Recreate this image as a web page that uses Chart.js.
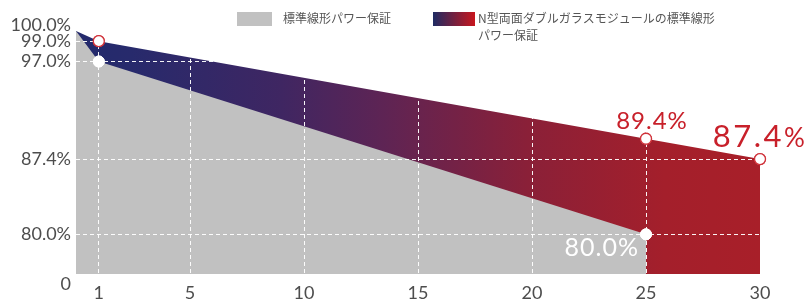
<!DOCTYPE html>
<html><head><meta charset="utf-8">
<script src="https://cdn.jsdelivr.net/npm/chart.js@4/dist/chart.umd.min.js"></script>
<style>html,body{margin:0;padding:0;background:#fff;}#wrap{width:811px;height:300px;position:relative;}</style>
</head><body><div id="wrap"><canvas id="c" width="811" height="300"></canvas></div>
<script>
// ---- data ----
const standardYears = [0, 1, 25];
const standardValues = [100, 97, 80];
const ntypeYears = [0, 1, 25, 30];
const ntypeValues = [100, 99, 89.4, 87.4];
const xTickValues = [1, 5, 10, 15, 20, 25, 30];
const yTickValues = [0, 80, 87.4, 97, 99, 100];
const seriesNames = ['標準線形パワー保証', 'N型両面ダブルガラスモジュールの標準線形パワー保証'];
const legendLines = [['標準線形パワー保証'], ['N型両面ダブルガラスモジュールの標準線形', 'パワー保証']];
const calloutYears = [25, 30, 25];
const calloutValues = [89.4, 87.4, 80];

// ---- scale settings ----
const Y_BREAK = 76.1;   // axis base, labelled "0" (broken axis)
const FONT = 'Lato, "Noto Sans", sans-serif';
const CJK = '"Noto Sans CJK JP", "Noto Sans", sans-serif';
const GRAY = '#c1c1c1';
const RED = '#c8202a';
const GRID = 'rgba(255,255,255,0.95)';
const NONE = 'rgba(0,0,0,0)';

const toPts = (xs, ys) => xs.map((x, i) => ({x: x, y: ys[i]}));
const yTickPos = v => (v === 0 ? Y_BREAK : v);

function ntypeGradient(ctx) {
  const ch = ctx.chart, a = ch.chartArea;
  if (!a) return '#5c2455';
  const g = ch.ctx.createLinearGradient(a.left, 0, a.right, 0);
  g.addColorStop(0, '#232a6c');
  g.addColorStop(0.08, '#272a6c');
  g.addColorStop(0.3, '#3f2662');
  g.addColorStop(0.45, '#5e2454');
  g.addColorStop(0.66, '#8a2038');
  g.addColorStop(0.86, '#a41f2b');
  g.addColorStop(1, '#a81f29');
  return g;
}

const overlay = {
  id: 'overlay',
  afterDraw(chart) {
    const ctx = chart.ctx;
    chart.data.datasets.forEach((d, i) => {
      chart.getDatasetMeta(i).data.forEach(p => p.draw(ctx));
    });
    const xs = chart.scales.x, ys = chart.scales.y;
    ctx.save();
    const fmt = v => v.toFixed(1);
    let px = xs.getPixelForValue(calloutYears[0]), py = ys.getPixelForValue(calloutValues[0]);
    ctx.fillStyle = RED; ctx.textAlign = 'center'; ctx.textBaseline = 'alphabetic';
    ctx.font = '24px ' + FONT; ctx.letterSpacing = '1px';
    ctx.fillText(fmt(calloutValues[0]) + '%', px + 6, py - 10);
    px = xs.getPixelForValue(calloutYears[1]); py = ys.getPixelForValue(calloutValues[1]);
    ctx.font = '31px ' + FONT; ctx.letterSpacing = '2.5px';
    const num = fmt(calloutValues[1]);
    const w1 = ctx.measureText(num).width;
    ctx.font = '26px ' + FONT;
    const w2 = ctx.measureText('%').width;
    const x0 = px - (w1 + w2) / 2;
    ctx.textAlign = 'left';
    ctx.font = '31px ' + FONT; ctx.fillText(num, x0, py - 12);
    ctx.font = '26px ' + FONT; ctx.fillText('%', x0 + w1, py - 12);
    px = xs.getPixelForValue(calloutYears[2]); py = ys.getPixelForValue(calloutValues[2]);
    ctx.fillStyle = '#ffffff'; ctx.textAlign = 'right'; ctx.letterSpacing = '1px';
    ctx.font = '25px ' + FONT;
    ctx.fillText(fmt(calloutValues[2]) + '%', px - 7, py + 22);
    ctx.letterSpacing = '0px';
    ctx.textAlign = 'left'; ctx.textBaseline = 'middle';
    ctx.fillStyle = GRAY; ctx.fillRect(237, 12, 35, 14);
    const lg = ctx.createLinearGradient(433, 0, 475, 0);
    lg.addColorStop(0, '#1e2b63'); lg.addColorStop(1, '#c8161d');
    ctx.fillStyle = lg; ctx.fillRect(433, 12, 42, 14);
    ctx.fillStyle = '#555555'; ctx.font = '12px ' + CJK;
    legendLines[0].forEach((t, k) => ctx.fillText(t, 283, 18 + k * 17));
    legendLines[1].forEach((t, k) => ctx.fillText(t, 478, 18 + k * 17));
    ctx.restore();
  }
};

new Chart(document.getElementById('c'), {
  type: 'line',
  data: {
    datasets: [
      {
        label: seriesNames[0],
        data: toPts(standardYears, standardValues),
        backgroundColor: GRAY,
        borderColor: NONE,
        borderWidth: 0,
        fill: 'start',
        tension: 0,
        clip: false,
        pointRadius: [0, 5.5, 5.5],
        pointBackgroundColor: '#ffffff',
        pointBorderColor: '#ffffff',
        pointBorderWidth: 1
      },
      {
        label: seriesNames[1],
        data: toPts(ntypeYears, ntypeValues),
        backgroundColor: ntypeGradient,
        borderColor: NONE,
        borderWidth: 0,
        fill: 'start',
        tension: 0,
        clip: false,
        pointRadius: [0, 5.5, 5.5, 5.5],
        pointBackgroundColor: '#ffffff',
        pointBorderColor: '#d0333b',
        pointBorderWidth: 1.3
      }
    ]
  },
  options: {
    responsive: false,
    animation: false,
    events: [],
    layout: {padding: {left: 0, right: 51, top: 31, bottom: 0}},
    plugins: {legend: {display: false}, tooltip: {enabled: false}},
    scales: {
      x: {
        type: 'linear', min: 0, max: 30,
        afterBuildTicks: s => { s.ticks = xTickValues.map(v => ({value: v})); },
        afterFit: s => { s.height = 26; },
        ticks: {color: '#4d4d4d', font: {family: FONT, size: 18}, padding: 8, maxRotation: 0, autoSkip: false},
        grid: {drawTicks: false, lineWidth: 1, z: 1,
          color: c => (c.tick && c.tick.value === 30) ? NONE : GRID},
        border: {display: false, dash: [4, 3]}
      },
      y: {
        type: 'linear', min: Y_BREAK, max: 100,
        afterBuildTicks: s => { s.ticks = yTickValues.map(v => ({value: yTickPos(v)})); },
        afterFit: s => { s.width = 76; },
        ticks: {color: '#4d4d4d', padding: 5, autoSkip: false,
          font: c => {
            const v = c.tick ? c.tick.value : null;
            const lh = v === 100 ? 0.7 : (v === Y_BREAK ? 1.1 : 1.2);
            return {family: FONT, size: 18, lineHeight: lh};
          },
          callback: v => (v === Y_BREAK ? ['', '0'] : (v === 100 ? ['100.0%', ''] : v.toFixed(1) + '%'))},
        grid: {drawTicks: false, lineWidth: 1, z: 1,
          color: c => (c.tick && (c.tick.value === 100 || c.tick.value === Y_BREAK)) ? NONE : GRID},
        border: {display: false, dash: [4, 3]}
      }
    }
  },
  plugins: [overlay]
});
</script></body></html>
